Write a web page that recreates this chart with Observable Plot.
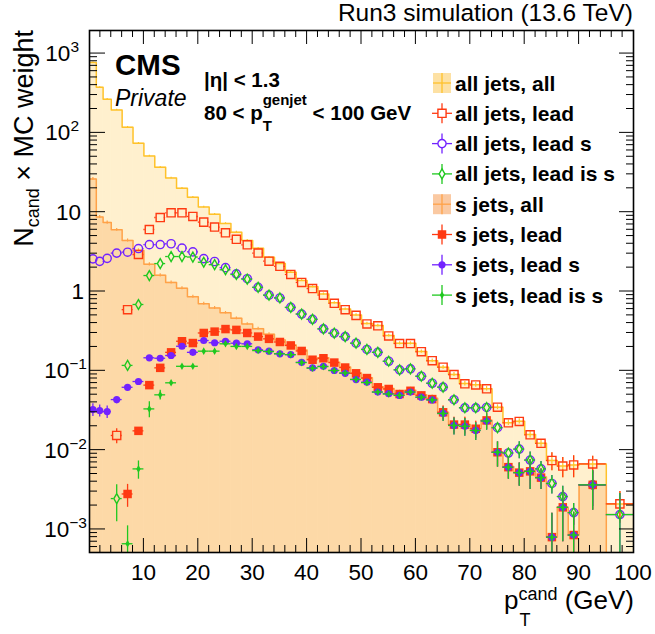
<!DOCTYPE html>
<html>
<head>
<meta charset="utf-8">
<title>Candidate pT spectrum</title>
<script src="https://cdn.jsdelivr.net/npm/d3@7"></script>
<script src="https://cdn.jsdelivr.net/npm/@observablehq/plot@0.6"></script>
<style>
  html, body { margin: 0; padding: 0; background: #ffffff; }
  #chart { position: relative; width: 655px; height: 634px; }
  #chart svg { display: block; }
</style>
</head>
<body>
<div id="chart"></div>
<script>
// Bin edges of the candidate pT histograms (GeV)
const binEdges = [0, 1.25, 2.5, 4, 6, 8, 10, 12, 14, 16, 18, 20, 22, 24, 26, 28, 30, 32, 34, 36, 38, 40,
  42, 44, 46, 48, 50, 52, 54, 56, 58, 60, 62, 64, 66, 68, 70, 72, 74, 76, 78, 80, 82, 84, 86, 88, 90, 95, 100];

// N_cand x MC weight per bin (null = empty bin)
const allJetsAll = [770, 375, 265, 195, 118, 74, 51, 37, 27, 20,
  15.4, 11.6, 9.4, 7.2, 5.6, 4.4, 3.5, 2.7, 2.25, 1.75,
  1.38, 1.15, 0.93, 0.72, 0.60, 0.505, 0.395, 0.372, 0.278, 0.222,
  0.222, 0.175, 0.134, 0.111, 0.090, 0.069, 0.0665, 0.0595, 0.0348, 0.0222,
  0.0231, 0.0157, 0.0122, 0.0074, 0.0063, 0.0065, 0.0067, 0.0021];
const allJetsAllErr = [15, 8, 6, 4, 2.5, 1.6, 1.1, 0.8, 0.6, 0.45,
  0.35, 0.27, 0.22, 0.17, 0.14, 0.11, 0.09, 0.07, 0.06, 0.05,
  0.04, 0.035, 0.03, 0.025, 0.02, 0.018, 0.016, 0.015, 0.012, 0.01,
  0.01, 0.008, 0.007, 0.006, 0.005, 0.0045, 0.0045, 0.004, 0.0025, 0.0017,
  0.0018, 0.0015, 0.0013, 0.0019, 0.0018, 0.0020, 0.0017, 0.0009];

const allJetsLead = [null, null, null, 0.0153, 0.59, 2.93, 6.05, 8.57, 9.83, 9.83,
  8.83, 7.5, 6.5, 5.5, 4.55, 3.88, 3.05, 2.41, 2.08, 1.64,
  1.30, 1.09, 0.90, 0.71, 0.59, 0.50, 0.39, 0.37, 0.275, 0.221,
  0.221, 0.174, 0.134, 0.111, 0.0898, 0.0686, 0.0664, 0.0593, 0.0348, 0.0221,
  0.0230, 0.0156, 0.0122, 0.0074, 0.0063, 0.0065, 0.0067, 0.0021];
const allJetsLeadErr = [0, 0, 0, 0.0033, 0.03, 0, 0, 0, 0, 0,
  0, 0, 0, 0, 0, 0, 0, 0, 0, 0,
  0, 0, 0, 0, 0, 0, 0, 0, 0, 0,
  0, 0.008, 0.007, 0.006, 0.005, 0.0045, 0.0045, 0.004, 0.0025, 0.0017,
  0.0018, 0.0015, 0.0013, 0.0019, 0.0018, 0.0020, 0.0017, 0.0009];

const allJetsLeadS = [2.58, 2.40, 2.62, 3.05, 3.13, 3.48, 3.90, 3.91, 4.00, 3.52,
  3.16, 2.60, 2.39, 2.00, 1.67, 1.45, 1.13, 0.90, 0.83, 0.63,
  0.52, 0.446, 0.338, 0.298, 0.270, 0.223, 0.186, 0.171, 0.132, 0.103,
  0.106, 0.0854, 0.0697, 0.0622, 0.0432, 0.0342, 0.0342, 0.0345, 0.0192, 0.0092,
  0.0103, 0.0075, 0.0058, 0.0038, 0.0026, 0.00163, 0.00365, 0.00154];
const allJetsLeadSErr = [0.25, 0.25, 0.25, 0, 0, 0, 0, 0, 0, 0,
  0, 0, 0, 0, 0, 0, 0, 0, 0, 0,
  0, 0, 0, 0, 0, 0, 0, 0, 0, 0,
  0, 0.005, 0.004, 0.004, 0.0035, 0.003, 0.003, 0.003, 0.0022, 0.0013,
  0.0025, 0.002, 0.0014, 0.001, 0.0009, 0.0005, 0.0017, 0.0013];

const allJetsLeadIsS = [null, null, null, 0.00245, 0.117, 0.686, 1.59, 2.25, 2.76, 2.76,
  2.72, 2.34, 2.18, 1.88, 1.64, 1.43, 1.13, 0.90, 0.83, 0.63,
  0.52, 0.446, 0.338, 0.298, 0.270, 0.223, 0.186, 0.171, 0.132, 0.103,
  0.106, 0.0854, 0.0697, 0.0622, 0.0432, 0.0342, 0.0342, 0.0345, 0.0192, 0.0092,
  0.0103, 0.0075, 0.0058, 0.0038, 0.0026, 0.00163, 0.00365, 0.00154];
const allJetsLeadIsSErr = [0, 0, 0, 0.0012, 0.012, 0.04, 0, 0, 0, 0,
  0, 0, 0, 0, 0, 0, 0, 0, 0, 0,
  0, 0, 0, 0, 0, 0, 0, 0, 0, 0,
  0, 0.005, 0.004, 0.004, 0.0035, 0.003, 0.003, 0.003, 0.0022, 0.0013,
  0.0025, 0.002, 0.0014, 0.001, 0.0009, 0.0005, 0.0017, 0.0013];

const sJetsAll = [26.3, 8.7, 7.4, 6.0, 4.4, 3.3, 2.2, 1.6, 1.3, 1.1,
  0.86, 0.70, 0.62, 0.54, 0.46, 0.39, 0.34, 0.29, 0.245, 0.212,
  0.183, 0.142, 0.146, 0.128, 0.112, 0.094, 0.082, 0.063, 0.060, 0.052,
  0.057, 0.050, 0.045, 0.030, 0.021, 0.021, 0.0187, 0.0238, 0.0095, 0.0062,
  0.0053, 0.0055, 0.0046, 0.0008, 0.0019, 0.00085, 0.00365, 0];
const sJetsAllErr = [1.0, 0.4, 0.35, 0.25, 0.2, 0.15, 0.1, 0.08, 0.06, 0.05,
  0.04, 0.03, 0.025, 0.02, 0.018, 0.015, 0.013, 0.011, 0.01, 0.009,
  0.008, 0.007, 0.007, 0.006, 0.006, 0.005, 0.005, 0.005, 0.005, 0.005,
  0.005, 0.0045, 0.0045, 0.006, 0.005, 0.005, 0.0045, 0.0055, 0.0033, 0.0018,
  0.0017, 0.0022, 0.0013, 0.0008, 0.0012, 0.0008, 0.0019, 0];

const sJetsLead = [null, null, null, null, 0.0028, 0.0175, 0.066, 0.109, 0.171, 0.236,
  0.224, 0.300, 0.312, 0.336, 0.328, 0.300, 0.270, 0.253, 0.231, 0.209,
  0.178, 0.138, 0.144, 0.127, 0.110, 0.093, 0.081, 0.062, 0.059, 0.051,
  0.056, 0.049, 0.044, 0.030, 0.021, 0.021, 0.0186, 0.0237, 0.0094, 0.0061,
  0.0052, 0.0054, 0.0045, 0.0008, 0.0019, 0.00085, 0.00365, null];
const sJetsLeadErr = [0, 0, 0, 0, 0.0009, 0.0022, 0.006, 0.007, 0.008, 0.008,
  0.008, 0.008, 0.008, 0.008, 0.008, 0.008, 0.008, 0.008, 0.008, 0.008,
  0.008, 0.007, 0.007, 0.006, 0.006, 0.005, 0.005, 0.005, 0.005, 0.005,
  0.005, 0.0045, 0.0045, 0.006, 0.005, 0.005, 0.0045, 0.0055, 0.0033, 0.0018,
  0.0017, 0.0022, 0.0013, 0.0008, 0.0012, 0.0008, 0.0019, 0];

const sJetsLeadS = [0.0325, 0.0316, 0.0306, 0.0434, 0.062, 0.0733, 0.146, 0.144, 0.156, 0.204,
  0.171, 0.241, 0.226, 0.236, 0.223, 0.219, 0.184, 0.177, 0.164, 0.160,
  0.128, 0.109, 0.114, 0.101, 0.093, 0.0776, 0.072, 0.054, 0.0515, 0.049,
  0.054, 0.0465, 0.043, 0.029, 0.0205, 0.020, 0.0177, 0.0233, 0.0094, 0.0061,
  0.0052, 0.0054, 0.0045, 0.0008, 0.0019, 0.00085, 0.00365, null];
const sJetsLeadSErr = [0.006, 0.0055, 0.0055, 0.005, 0.006, 0.006, 0.007, 0.007, 0.007, 0.008,
  0.008, 0.008, 0.008, 0.008, 0.008, 0.008, 0.008, 0.008, 0.008, 0.008,
  0.008, 0.007, 0.007, 0.006, 0.006, 0.005, 0.005, 0.005, 0.005, 0.005,
  0.005, 0.0045, 0.0045, 0.006, 0.005, 0.005, 0.0045, 0.0055, 0.0033, 0.0018,
  0.0017, 0.0022, 0.0013, 0.0008, 0.0012, 0.0008, 0.0019, 0];

const sJetsLeadIsS = [null, null, null, null, 0.00066, 0.0058, 0.0331, 0.0498, 0.0706, 0.114,
  0.114, 0.177, 0.177, 0.219, 0.203, 0.203, 0.180, 0.175, 0.164, 0.160,
  0.127, 0.108, 0.113, 0.101, 0.094, 0.078, 0.071, 0.054, 0.051, 0.049,
  0.054, 0.0465, 0.043, 0.029, 0.0205, 0.020, 0.0177, 0.0233, 0.0094, 0.0061,
  0.0052, 0.0054, 0.0045, 0.0008, 0.0019, 0.00085, 0.00365, null];
const sJetsLeadIsSErr = [0, 0, 0, 0, 0.00045, 0.0015, 0.0075, 0.007, 0.007, 0.007,
  0.007, 0.007, 0.007, 0.007, 0.007, 0.007, 0.007, 0.007, 0.007, 0.007,
  0.007, 0.007, 0.007, 0.006, 0.006, 0.005, 0.005, 0.005, 0.005, 0.005,
  0.005, 0.0045, 0.0045, 0.006, 0.005, 0.005, 0.0045, 0.0055, 0.0033, 0.0018,
  0.0017, 0.0022, 0.0013, 0.0008, 0.0012, 0.0008, 0.0019, 0];

// Axis labels
const xTickLabels = [10, 20, 30, 40, 50, 60, 70, 80, 90, 100];
const yDecadeExponents = [-3, -2, -1, 0, 1, 2, 3];

// Frame geometry and styling
const W = 655, H = 634;
const FX0 = 89, FX1 = 633, FY0 = 30, FY1 = 552;
const yDomain = [5.12e-4, 1954];
const FONT = "'Liberation Sans', Arial, Helvetica, sans-serif";

const colYellowFill = "#FFF0CE", colYellowLine = "#FFC22A", colYellowBox = "#FDE1A4";
const colPeachFill = "#FDD9A7", colPeachLine = "#FFA248", colPeachBox = "#FAC9A2";
const colRed = "#FF3A12", colPurple = "#7222FF", colGreen = "#1FC81F";

const ys = Plot.scale({y: {type: "log", domain: yDomain, range: [FY1, FY0]}});
const sy = v => ys.apply(v);
const yLow = yDomain[0] * 0.5;

function rowsOf(values, errors) {
  return values.map((v, i) => ({
    lo: binEdges[i], hi: binEdges[i + 1], c: (binEdges[i] + binEdges[i + 1]) / 2,
    v, e: errors ? errors[i] : 0
  })).filter(d => d.v != null && d.v > 0);
}

function stepPoints(values) {
  const pts = values.map((v, i) => ({x: binEdges[i], y: v > 0 ? v : yLow}));
  pts.push({x: binEdges[binEdges.length - 1], y: pts[pts.length - 1].y});
  return pts;
}

function histogramMarks(values, errors, fill, line) {
  const rows = rowsOf(values, errors);
  const errRows = rows.filter(d => d.e > 0);
  return [
    Plot.rect(rows, {x1: "lo", x2: "hi", y1: yDomain[0], y2: "v", fill, stroke: fill, strokeWidth: 0.6, inset: 0, clip: true}),
    Plot.line(stepPoints(values), {x: "x", y: "y", curve: "step-after", stroke: line, strokeWidth: 1.5, clip: true}),
    Plot.ruleX(errRows, {x: "c", y1: d => d.v + d.e, y2: d => Math.max(d.v - d.e, yLow), stroke: line, strokeWidth: 1.2, clip: true})
  ];
}

// Marker series: half extents used to open a gap in the error bars
const pointSeries = [
  {label: "all jets, lead", values: allJetsLead, err: allJetsLeadErr, symbol: "square", r: 4.6, color: colRed, filled: false},
  {label: "all jets, lead s", values: allJetsLeadS, err: allJetsLeadSErr, symbol: "circle", r: 4.1, color: colPurple, filled: false},
  {label: "all jets, lead is s", values: allJetsLeadIsS, err: allJetsLeadIsSErr, symbol: "diamond", r: 3.0, color: colGreen, filled: false},
  {label: "s jets, lead", values: sJetsLead, err: sJetsLeadErr, symbol: "square", r: 4.8, color: colRed, filled: true},
  {label: "s jets, lead s", values: sJetsLeadS, err: sJetsLeadSErr, symbol: "circle", r: 3.6, color: colPurple, filled: true},
  {label: "s jets, lead is s", values: sJetsLeadIsS, err: sJetsLeadIsSErr, symbol: "diamond", r: 2.3, color: colGreen, filled: true}
];

function halfExtents(s) {
  if (s.symbol === "square") return [0.886 * s.r, 0.886 * s.r];
  if (s.symbol === "diamond") return [0.952 * s.r, 1.65 * s.r];
  return [s.r, s.r];
}

function pointMarks(s) {
  const rows = rowsOf(s.values, s.err);
  const [hx, hy] = halfExtents(s);
  const gx = s.filled ? 0 : hx, gy = s.filled ? 0 : hy;
  const up = rows.filter(d => d.e > 0 && sy(d.v) - sy(d.v + d.e) > hy + 0.5);
  const down = rows.filter(d => d.e > 0 && sy(Math.max(d.v - d.e, yLow)) - sy(d.v) > hy + 0.5);
  const sw = 1.3;
  return [
    Plot.ruleY(rows, {y: "v", x1: "lo", x2: "c", insetRight: gx, stroke: s.color, strokeWidth: sw, clip: true}),
    Plot.ruleY(rows, {y: "v", x1: "c", x2: "hi", insetLeft: gx, stroke: s.color, strokeWidth: sw, clip: true}),
    Plot.ruleX(up, {x: "c", y1: d => d.v + d.e, y2: "v", insetBottom: gy, stroke: s.color, strokeWidth: sw, clip: true}),
    Plot.ruleX(down, {x: "c", y1: "v", y2: d => Math.max(d.v - d.e, yLow), insetTop: gy, stroke: s.color, strokeWidth: sw, clip: true}),
    Plot.dot(rows, {
      x: "c", y: "v", symbol: s.symbol, r: s.r,
      fill: s.filled ? s.color : "none",
      stroke: s.filled ? "none" : s.color,
      strokeWidth: s.filled ? 0 : 1.4, clip: true
    })
  ];
}

const plot = Plot.plot({
  width: W, height: H,
  marginLeft: FX0, marginRight: W - FX1, marginTop: FY0, marginBottom: H - FY1,
  x: {domain: [0, 100], axis: null},
  y: {type: "log", domain: yDomain, axis: null},
  style: {background: "transparent", overflow: "visible"},
  marks: [
    ...histogramMarks(allJetsAll, allJetsAllErr, colYellowFill, colYellowLine),
    ...histogramMarks(sJetsAll, sJetsAllErr, colPeachFill, colPeachLine),
    ...pointSeries.flatMap(pointMarks),
    Plot.frame({stroke: "#000", strokeWidth: 1.6})
  ]
});

document.getElementById("chart").append(plot);

const svg = d3.select(plot);
const xs = plot.scale("x");
const ysPlot = plot.scale("y");
const px = v => xs.apply(v);
const py = v => ysPlot.apply(v);

// Inward ticks on all four sides
const gTicks = svg.append("g").attr("stroke", "#000").attr("stroke-width", 1);
const xMinor = d3.range(2, 100, 2).filter(v => v % 10 !== 0);
const xMajor = d3.range(10, 100, 10);
for (const [vals, len] of [[xMajor, 14], [xMinor, 7]]) {
  for (const v of vals) {
    gTicks.append("line").attr("x1", px(v)).attr("x2", px(v)).attr("y1", FY1).attr("y2", FY1 - len);
    gTicks.append("line").attr("x1", px(v)).attr("x2", px(v)).attr("y1", FY0).attr("y2", FY0 + len);
  }
}
const yMajor = yDecadeExponents.map(n => Math.pow(10, n));
const yMinor = [];
for (let n = -4; n <= 3; n++) for (let k = 2; k <= 9; k++) {
  const v = k * Math.pow(10, n);
  if (v > yDomain[0] && v < yDomain[1]) yMinor.push(v);
}
for (const [vals, lenL, lenR] of [[yMajor, 16, 14], [yMinor, 8, 7]]) {
  for (const v of vals) {
    gTicks.append("line").attr("x1", FX0).attr("x2", FX0 + lenL).attr("y1", py(v)).attr("y2", py(v));
    gTicks.append("line").attr("x1", FX1).attr("x2", FX1 - lenR).attr("y1", py(v)).attr("y2", py(v));
  }
}

function text(x, y, str, size, opts = {}) {
  return svg.append("text")
    .attr("x", x).attr("y", y)
    .attr("font-family", FONT)
    .attr("font-size", size)
    .attr("font-weight", opts.weight || "normal")
    .attr("font-style", opts.style || "normal")
    .attr("text-anchor", opts.anchor || "start")
    .attr("fill", "#000")
    .text(str);
}

// x tick labels
for (const v of xTickLabels) text(px(v), 580, String(v), 22.5, {anchor: "middle"});

// y tick labels: 10^n
for (const n of yDecadeExponents) {
  const y = py(Math.pow(10, n)) + 8;
  if (n === 0) { text(84, y, "1", 22.5, {anchor: "end"}); continue; }
  if (n === 1) { text(81, y, "10", 22.5, {anchor: "end"}); continue; }
  const t = text(n < 0 ? 87 : 79, y, "10", 22.5, {anchor: "end"});
  t.append("tspan").attr("dy", -9).attr("font-size", 15.5).text(n < 0 ? "\u2212" + (-n) : String(n));
}

// y axis title
const yTitle = svg.append("text")
  .attr("transform", `translate(33,${FY0}) rotate(-90)`)
  .attr("font-family", FONT).attr("font-size", 27).attr("text-anchor", "end").attr("fill", "#000");
yTitle.append("tspan").text("N");
yTitle.append("tspan").attr("font-size", 18).attr("dy", 6).text("cand");
yTitle.append("tspan").attr("dy", -6).text(" \u00d7 MC weight");

// x axis title: p_T^cand (GeV)
{
  const base = 609;
  const p = text(0, base, "p", 26);
  const sup = text(0, 600, "cand", 18);
  const sub = text(0, 626, "T", 18);
  const unit = text(0, base, "\u00a0(GeV)", 26);
  const wp = p.node().getComputedTextLength();
  const ws = Math.max(sup.node().getComputedTextLength(), sub.node().getComputedTextLength());
  const wu = unit.node().getComputedTextLength();
  const x0 = FX1 + 1 - (wp + ws + wu);
  p.attr("x", x0);
  sup.attr("x", x0 + wp);
  sub.attr("x", x0 + wp + 1);
  unit.attr("x", x0 + wp + ws);
}

// Header and labels
text(FX1, 21, "Run3 simulation (13.6 TeV)", 24.5, {anchor: "end"});
text(115, 75, "CMS", 29.5, {weight: "bold"});
text(115, 106, "Private", 23, {style: "italic"});
text(204, 87, "|\u03b7| < 1.3", 20.5, {weight: "bold"});
{
  const a = text(204, 120, "80 < p", 20.5, {weight: "bold"});
  const wa = a.node().getComputedTextLength();
  const sup = text(204 + wa, 105, "genjet", 15, {weight: "bold"});
  text(204 + wa, 131, "T", 15, {weight: "bold"});
  const ws = sup.node().getComputedTextLength();
  text(204 + wa + ws, 120, "\u00a0< 100 GeV", 20.5, {weight: "bold"});
}

// Legend
const legendEntries = [
  {label: "all jets, all", box: colYellowBox, line: colYellowLine},
  pointSeries[0], pointSeries[1], pointSeries[2],
  {label: "s jets, all", box: colPeachBox, line: colPeachLine},
  pointSeries[3], pointSeries[4], pointSeries[5]
];
const symbolTypes = {square: d3.symbolSquare, circle: d3.symbolCircle, diamond: d3.symbolDiamond};
legendEntries.forEach((e, i) => {
  const cy = 83 + i * 30.3, cx = 442;
  const g = svg.append("g");
  if (e.box) {
    g.append("rect").attr("x", cx - 9).attr("y", cy - 10).attr("width", 18).attr("height", 20).attr("fill", e.box);
    g.append("line").attr("x1", cx - 9).attr("x2", cx + 9).attr("y1", cy).attr("y2", cy).attr("stroke", e.line).attr("stroke-width", 1.3);
    g.append("line").attr("x1", cx).attr("x2", cx).attr("y1", cy - 10).attr("y2", cy + 10).attr("stroke", e.line).attr("stroke-width", 1.3);
  } else {
    const [hx, hy] = halfExtents(e);
    const gx = e.filled ? 0 : hx, gy = e.filled ? 0 : hy;
    const st = {stroke: e.color, "stroke-width": 1.3};
    const seg = (x1, y1, x2, y2) => {
      const l = g.append("line").attr("x1", x1).attr("y1", y1).attr("x2", x2).attr("y2", y2);
      for (const k in st) l.attr(k, st[k]);
    };
    seg(cx - 10, cy, cx - gx, cy); seg(cx + gx, cy, cx + 10, cy);
    seg(cx, cy - 10, cx, cy - gy); seg(cx, cy + gy, cx, cy + 10);
    g.append("path")
      .attr("transform", `translate(${cx},${cy})`)
      .attr("d", d3.symbol(symbolTypes[e.symbol], Math.PI * e.r * e.r)())
      .attr("fill", e.filled ? e.color : "none")
      .attr("stroke", e.filled ? "none" : e.color)
      .attr("stroke-width", 1.4);
  }
  text(455, cy + 7.5, e.label, 21, {weight: "bold"});
});
</script>
</body>
</html>
